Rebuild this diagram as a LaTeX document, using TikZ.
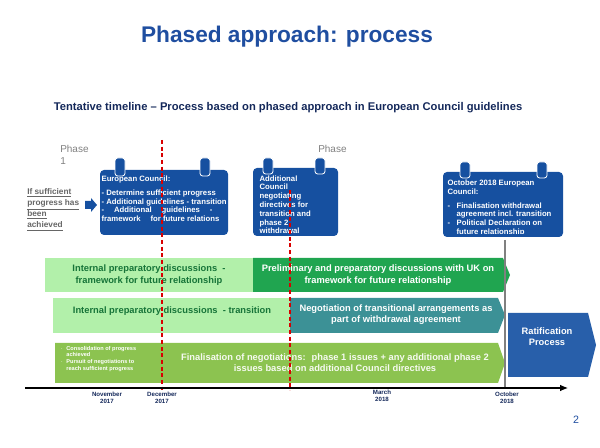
\documentclass[tikz,border=0pt]{standalone}
\usepackage{fontspec}
\setmainfont{Liberation Sans}
\usetikzlibrary{positioning,arrows.meta}
\definecolor{titleblue}{RGB}{31,78,160}
\definecolor{boxblue}{RGB}{22,80,160}
\definecolor{navy}{RGB}{20,40,90}
\definecolor{lightgreen}{RGB}{178,240,170}
\definecolor{darkgreen}{RGB}{32,165,80}
\definecolor{tealrow}{RGB}{60,145,150}
\definecolor{olive}{RGB}{140,195,80}
\definecolor{ratblue}{RGB}{40,95,170}
\tikzset{
  event/.style={fill=boxblue,rounded corners=3pt},
  ring/.style={fill=boxblue,draw=white,line width=0.6pt,rounded corners=2pt},
  boxtext/.style={text=white,font=\fontsize{5.8}{6.6}\selectfont\bfseries,align=left,anchor=north west,inner sep=1pt},
  rowtext/.style={font=\fontsize{7}{8.4}\selectfont\bfseries,align=center},
  datetext/.style={text=navy,font=\fontsize{4.6}{5.6}\selectfont\bfseries,align=center},
  phase/.style={text=gray,font=\fontsize{7.5}{9}\selectfont,align=left,anchor=north west,inner sep=0pt},
  marker/.style={red!85!black,densely dashed,line width=0.8pt},
}
\begin{document}
\begin{tikzpicture}[x=0.75pt,y=-0.75pt]
\useasboundingbox (0,0) rectangle (600,448);
% title
\node[text=titleblue,font=\fontsize{17}{20}\selectfont\bfseries] (title) at (287,37) {Phased approach: process};
\node[text=navy,font=\fontsize{8.4}{10}\selectfont\bfseries] (sub) at (288,108)
  {Tentative timeline -- Process based on phased approach in European Council guidelines};
\node[phase] (ph1) at (60,145) {Phase\\1};
\node[phase] (ph2) at (318,145) {Phase};
% side note
\node[text=gray!80!black,font=\fontsize{6.2}{8.4}\selectfont\bfseries,align=left,anchor=north west,inner sep=0pt] (cond) at (27,188)
  {\underline{If sufficient}\\\underline{progress has}\\\underline{been}\\\underline{achieved}};
\fill[boxblue] (85,201) -- (91,201) -- (91,198) -- (97,205) -- (91,212) -- (91,209) -- (85,209) -- cycle;
% event boxes
\fill[event] (100,170) rectangle (228,235);
\foreach \x in {120,205} \fill[ring] (\x-5,158) rectangle (\x+5,176);
\node[boxtext] (ec1) at (100,174) {European Council:\\[4pt]- Determine sufficient progress\\- Additional guidelines - transition\\- \quad Additional \quad guidelines \quad -\\framework \quad for future relations};
\begin{scope}
\fill[event] (253,168) rectangle (338,236);
\clip (253,168) rectangle (338,233);
\node[boxtext] (ec2) at (258,174) {Additional\\Council\\negotiating\\directives for\\transition and\\phase 2\\withdrawal};
\end{scope}
\foreach \x in {268,320} \fill[ring] (\x-5,158) rectangle (\x+5,174);
\begin{scope}
\fill[event] (443,172) rectangle (563,237);
\clip (443,172) rectangle (563,234);
\node[boxtext] (ec3) at (446,178) {October 2018 European\\Council:\\[4pt]- \ \ Finalisation withdrawal\\\phantom{- \ \ }agreement incl. transition\\- \ \ Political Declaration on\\\phantom{- \ \ }future relationship};
\end{scope}
\foreach \x in {465,542} \fill[ring] (\x-5,162) rectangle (\x+5,178);
% rows
\fill[lightgreen] (45,258) rectangle (253,292);
\fill[darkgreen] (253,258) -- (503,258) -- (510,275) -- (503,292) -- (253,292) -- cycle;
\node[rowtext,text=darkgreen!70!black] (r1a) at (149,275) {Internal preparatory discussions \ -\\framework for future relationship};
\node[rowtext,text=white] (r1b) at (378,275) {Preliminary and preparatory discussions with UK on\\framework for future relationship};
\fill[lightgreen] (53,298) rectangle (290,333);
\fill[tealrow] (290,298) -- (498,298) -- (505,315) -- (498,333) -- (290,333) -- cycle;
\node[rowtext,text=darkgreen!70!black] (r2a) at (172,311) {Internal preparatory discussions \ - transition};
\node[rowtext,text=white] (r2b) at (396,315) {Negotiation of transitional arrangements as\\part of withdrawal agreement};
\fill[olive] (55,343) -- (498,343) -- (505,363) -- (498,383) -- (55,383) -- cycle;
\node[text=white,font=\fontsize{4.2}{5}\selectfont\bfseries,align=left,anchor=north west,inner sep=0pt] (r3a) at (60,346)
  {$\cdot$\ \ Consolidation of progress\\\phantom{$\cdot$\ \ }achieved\\$\cdot$\ \ Pursuit of negotiations to\\\phantom{$\cdot$\ \ }reach sufficient progress};
\node[rowtext,text=white!92!olive] (r3b) at (335,363) {Finalisation of negotiations: \ phase 1 issues + any additional phase 2\\issues based on additional Council directives};
\fill[ratblue] (508,313) -- (588,313) -- (596,345) -- (588,377) -- (508,377) -- cycle;
\node[rowtext,text=white] (rat) at (547,337) {Ratification\\Process};
% dashed markers
\draw[marker] (162,140) -- (162,390);
\draw[marker] (290,190) -- (290,390);
\draw[gray,line width=0.8pt] (505,240) -- (505,388);
% time axis
\coordinate (t0) at (25,388);
\coordinate (t1) at (568,388);
\draw[line width=0.8pt,-{Latex[length=6pt,width=5pt]}] (t0) -- (t1);
\node[datetext] (d1) at (107,398) {November\\2017};
\node[datetext] (d2) at (162,398) {December\\2017};
\node[datetext] (d3) at (382,396) {March\\2018};
\node[datetext] (d4) at (507,398) {October\\2018};
\node[text=titleblue,font=\fontsize{8}{9}\selectfont] (pg) at (576,420) {2};
\end{tikzpicture}
\end{document}
